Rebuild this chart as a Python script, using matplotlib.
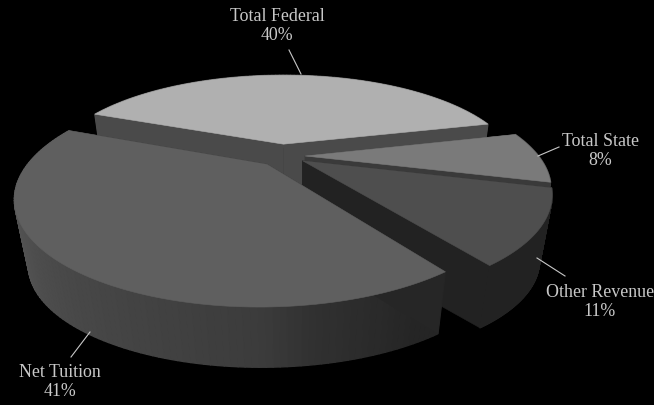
"""
Exploded 3D pie of revenue sources, drawn with polygons on a black background.
"""

import numpy as np
import matplotlib
matplotlib.use('Agg')
import matplotlib.pyplot as plt
from matplotlib.collections import PolyCollection
from matplotlib.patches import Polygon

# Data
labels = ['Total Federal', 'Total State', 'Other Revenue', 'Net Tuition']
values = [40, 8, 11, 41]

# Style for each slice
top_colors = ['#b0b0b0', '#7a7a7a', '#4e4e4e', '#5f5f5f']
cut_colors = ['#4a4a4a', '#3a3a3a', '#222222', '#262626']
explode = [(-0.007, 0.108), (0.086, -0.021), (0.074, -0.070), (-0.075, -0.106)]

# Side wall shade stops, by angle around the pie
wall_angles = [-200, -170, -125, -90, -80, -60]
wall_shades = [0.36, 0.35, 0.28, 0.235, 0.19, 0.145]

# Label layout
label_pos = [(277, 26), (600, 151), (600, 302), (60, 382)]
leader_lines = [((289, 51), (301, 75)), ((559, 148), (538, 157)),
                ((565, 277), (537, 259)), ((71, 358), (90, 333))]

# Projection of the pie plane onto the picture
CX, CY = 285, 155
RX, RY = 232, 94
PERSP = 0.29
VANISH = np.array([296, 1512])
DEPTH = 0.05
START_ANGLE = 158


def project(x, y):
    w = 1 + PERSP * y
    return np.column_stack([CX + RX * x / w, CY - RY * y / w])


def drop(points):
    return points + DEPTH * (VANISH - points)


def draw_slice(ax, a0, a1, offset, top_color, cut_color, varied_wall):
    angles = np.linspace(a0, a1, 120)
    rad = np.radians(angles)
    arc = project(np.cos(rad) + offset[0], np.sin(rad) + offset[1])
    apex = project(np.array([offset[0]]), np.array([offset[1]]))

    # Outer wall, many thin strips for the gradient, back strips first
    low = drop(arc)
    strips = [[arc[i], arc[i + 1], low[i + 1], low[i]] for i in range(len(arc) - 1)]
    if varied_wall:
        shades = np.interp(angles[:-1], wall_angles, wall_shades)
        colors = [(s, s, s) for s in shades]
    else:
        colors = [cut_color] * len(strips)
    order = np.argsort(arc[:-1, 1])
    strips = [strips[i] for i in order]
    colors = [colors[i] for i in order]
    ax.add_collection(PolyCollection(strips, facecolors=colors, edgecolors=colors, linewidths=1.0))

    # Two cut faces
    for end in (arc[0], arc[-1]):
        face = [apex[0], end, drop(end), drop(apex[0])]
        ax.add_patch(Polygon(face, closed=True, fc=cut_color, ec=cut_color, lw=0.4))

    # Top face
    ax.add_patch(Polygon(np.vstack([apex, arc]), closed=True, fc=top_color, ec=top_color, lw=0.4))


def main():
    fig = plt.figure(figsize=(6.54, 4.06), dpi=100, facecolor='black')
    ax = fig.add_axes([0, 0, 1, 1])
    ax.set_xlim(0, 654)
    ax.set_ylim(406, 0)
    ax.axis('off')

    a0 = START_ANGLE
    for i, value in enumerate(values):
        a1 = a0 - value / sum(values) * 360
        draw_slice(ax, a0, a1, explode[i], top_colors[i], cut_colors[i], labels[i] == 'Net Tuition')
        a0 = a1

    for i, label in enumerate(labels):
        ax.text(label_pos[i][0], label_pos[i][1], f'{label}\n{values[i]}%', color='#c8c8c8',
                family='Liberation Serif', fontsize=12.9, ha='center', va='center', linespacing=1.08)
        (x0, y0), (x1, y1) = leader_lines[i]
        ax.plot([x0, x1], [y0, y1], color='#c8c8c8', lw=0.8)

    fig.savefig('out.png', dpi=100, facecolor='black')


if (__name__ == '__main__'):
    main()
